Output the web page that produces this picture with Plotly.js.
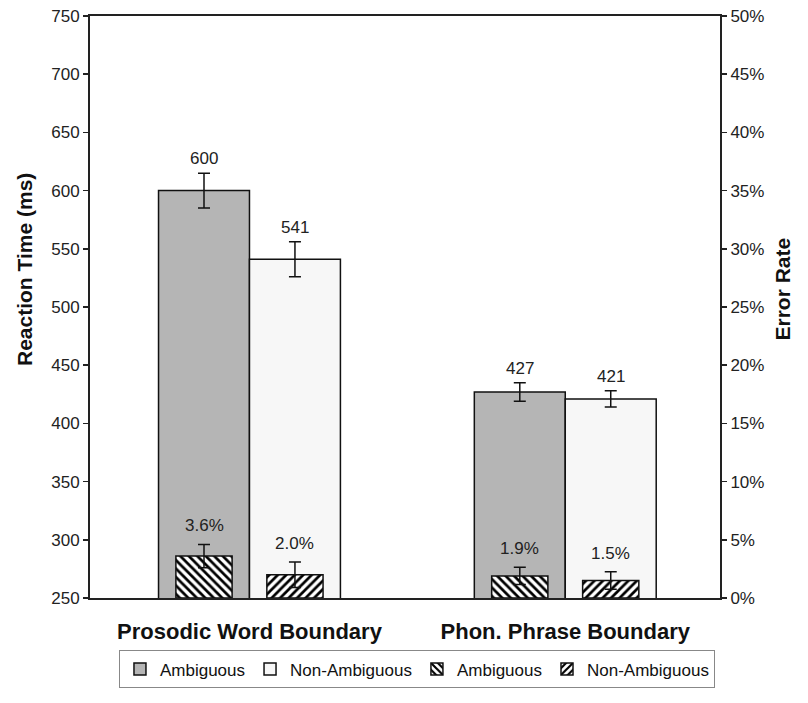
<!DOCTYPE html>
<html>
<head>
<meta charset="utf-8">
<script src="https://cdn.plot.ly/plotly-3.0.1.min.js"></script>
<style>html,body{margin:0;padding:0;background:#fff;}#chart{width:808px;height:703px;}</style>
</head>
<body>
<div id="chart"></div>
<script>
const categories = ["Prosodic Word Boundary", "Phon. Phrase Boundary"];
const seriesNames = ["Ambiguous", "Non-Ambiguous", "Ambiguous", "Non-Ambiguous"];
const rtAmbiguous = [600, 427];
const rtAmbiguousErr = [15, 8];
const rtNonAmbiguous = [541, 421];
const rtNonAmbiguousErr = [15, 7];
const erAmbiguous = [3.6, 1.9];
const erAmbiguousErr = [1.0, 0.75];
const erNonAmbiguous = [2.0, 1.5];
const erNonAmbiguousErr = [1.1, 0.75];
const leftTicks = [250, 300, 350, 400, 450, 500, 550, 600, 650, 700, 750];
const rightTicks = [0, 5, 10, 15, 20, 25, 30, 35, 40, 45, 50];
const leftTitle = "Reaction Time (ms)";
const rightTitle = "Error Rate";

const FONT = '"Liberation Sans", Arial, sans-serif';
const xs = categories.map((c, i) => i);
const BW = 0.288, HW = 0.178;
const lineStyle = {color: '#111', width: 1.5};

function errBar(arr) {
  return {type: 'data', array: arr, visible: true, color: '#111', thickness: 1.5, width: 6};
}

const traces = [
  {type: 'bar', name: seriesNames[0], x: xs, y: rtAmbiguous, width: BW, offset: -BW,
   marker: {color: '#b5b5b5', line: lineStyle}, error_y: errBar(rtAmbiguousErr), yaxis: 'y'},
  {type: 'bar', name: seriesNames[1], x: xs, y: rtNonAmbiguous, width: BW, offset: 0,
   marker: {color: '#f7f7f7', line: lineStyle}, error_y: errBar(rtNonAmbiguousErr), yaxis: 'y'},
  {type: 'bar', name: seriesNames[2], x: xs, y: erAmbiguous, width: HW, offset: -BW / 2 - HW / 2,
   marker: {color: 'white', line: lineStyle, pattern: {shape: '\\', fgcolor: '#000', bgcolor: '#fff', size: 6, solidity: 0.45}},
   error_y: errBar(erAmbiguousErr), yaxis: 'y2'},
  {type: 'bar', name: seriesNames[3], x: xs, y: erNonAmbiguous, width: HW, offset: BW / 2 - HW / 2,
   marker: {color: 'white', line: lineStyle, pattern: {shape: '/', fgcolor: '#000', bgcolor: '#fff', size: 6, solidity: 0.45}},
   error_y: errBar(erNonAmbiguousErr), yaxis: 'y2'}
];

const annFont = {family: FONT, size: 17, color: '#222'};
const titleFont = {family: FONT, size: 21, color: '#111'};
const annotations = [];
xs.forEach((x, i) => {
  annotations.push({x: x - BW / 2, y: rtAmbiguous[i] + rtAmbiguousErr[i], yref: 'y', text: String(rtAmbiguous[i]),
    showarrow: false, yanchor: 'bottom', yshift: 3, font: annFont});
  annotations.push({x: x + BW / 2, y: rtNonAmbiguous[i] + rtNonAmbiguousErr[i], yref: 'y', text: String(rtNonAmbiguous[i]),
    showarrow: false, yanchor: 'bottom', yshift: 3, font: annFont});
  annotations.push({x: x - BW / 2, y: erAmbiguous[i] + erAmbiguousErr[i], yref: 'y2', text: erAmbiguous[i].toFixed(1) + '%',
    showarrow: false, yanchor: 'bottom', yshift: 7, font: annFont});
  annotations.push({x: x + BW / 2, y: erNonAmbiguous[i] + erNonAmbiguousErr[i], yref: 'y2', text: erNonAmbiguous[i].toFixed(1) + '%',
    showarrow: false, yanchor: 'bottom', yshift: 7, font: annFont});
});
annotations.push({xref: 'paper', yref: 'paper', x: -0.105, y: 0.565, text: '<b>' + leftTitle + '</b>',
  textangle: -90, showarrow: false, xanchor: 'center', yanchor: 'middle', font: titleFont});
annotations.push({xref: 'paper', yref: 'paper', x: 1.1, y: 0.53, text: '<b>' + rightTitle + '</b>',
  textangle: -90, showarrow: false, xanchor: 'center', yanchor: 'middle', font: titleFont});

const layout = {
  width: 808, height: 703,
  margin: {l: 90, r: 88, t: 16, b: 105},
  paper_bgcolor: '#fff', plot_bgcolor: '#fff',
  font: {family: FONT, color: '#222', size: 17},
  barmode: 'overlay',
  showlegend: true,
  xaxis: {
    range: [-0.505, 1.49], tickvals: xs, ticktext: categories.map(c => '<b>' + c + '</b>'),
    tickfont: {family: FONT, size: 22, color: '#111'}, ticks: '', ticklabelstandoff: 13,
    showline: true, linecolor: '#222', linewidth: 2, mirror: true, showgrid: false, zeroline: false,
    automargin: false
  },
  yaxis: {
    range: [250, 750], tickvals: leftTicks, ticks: 'outside', ticklen: 5, tickwidth: 1.5, tickcolor: '#222',
    tickfont: {family: FONT, size: 17, color: '#222'},
    showline: true, linecolor: '#222', linewidth: 2, showgrid: false, zeroline: false, automargin: false
  },
  yaxis2: {
    range: [0, 50], tickvals: rightTicks, ticktext: rightTicks.map(v => v + '%'), overlaying: 'y', side: 'right',
    ticks: 'outside', ticklen: 5, tickwidth: 1.5, tickcolor: '#222',
    tickfont: {family: FONT, size: 17, color: '#222'},
    showline: true, linecolor: '#222', linewidth: 2, showgrid: false, zeroline: false, automargin: false
  },
  legend: {
    orientation: 'h', x: 0.519, xanchor: 'center', y: -0.09, yanchor: 'top',
    font: {family: FONT, size: 17, color: '#111'}, bordercolor: '#888', borderwidth: 1,
    bgcolor: '#fff', itemwidth: 30, traceorder: 'normal'
  },
  annotations: annotations
};

Plotly.newPlot('chart', traces, layout, {displayModeBar: false, staticPlot: true});
</script>
</body>
</html>
